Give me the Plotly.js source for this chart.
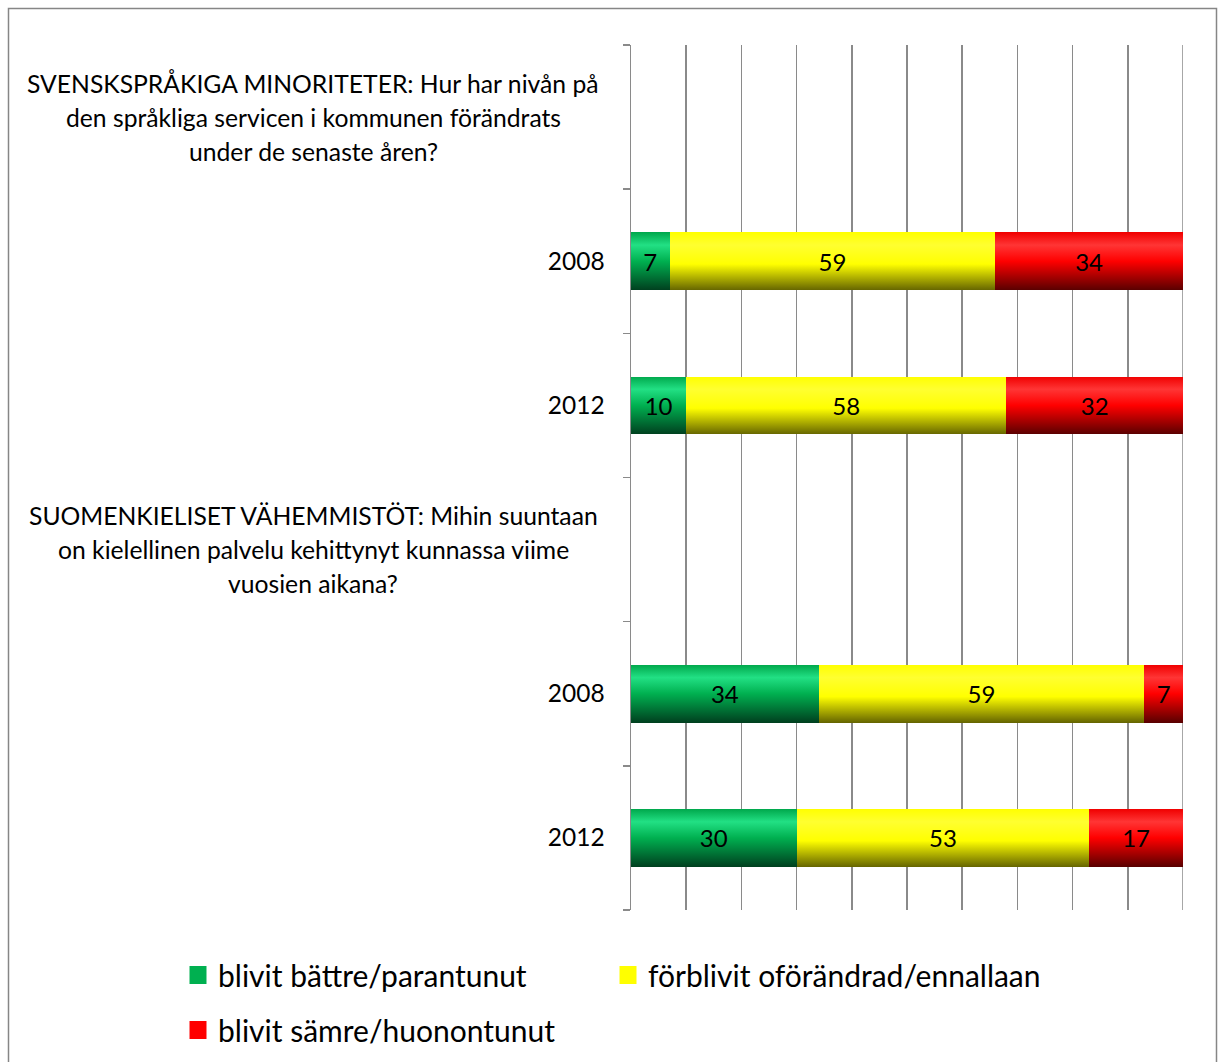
<!DOCTYPE html>
<html>
<head>
<meta charset="utf-8">
<script src="https://cdn.plot.ly/plotly-3.0.1.min.js"></script>
<style>
  html, body { margin: 0; padding: 0; background: #ffffff; }
  #chart { width: 1225px; height: 1062px; }
</style>
</head>
<body>
<div id="chart"></div>
<script>
// ---- data ----
const rowLabels = [
  'SVENSKSPRÅKIGA MINORITETER: Hur har nivån på<br>den språkliga servicen i kommunen förändrats<br>under de senaste åren?',
  '2008',
  '2012',
  'SUOMENKIELISET VÄHEMMISTÖT: Mihin suuntaan<br>on kielellinen palvelu kehittynyt kunnassa viime<br>vuosien aikana?',
  '2008',
  '2012'
];
const isQuestion = [true, false, false, true, false, false];
const seriesNames = ['blivit bättre/parantunut', 'förblivit oförändrad/ennallaan', 'blivit sämre/huonontunut'];
const better = [null, 7, 10, null, 34, 30];
const same   = [null, 59, 58, null, 59, 53];
const worse  = [null, 34, 32, null, 7, 17];

// ---- styling ----
const FONT = 'Lato, "Open Sans", sans-serif';
const colors = ['#00B050', '#FFFF00', '#FF0000'];
const rowKeys = rowLabels.map((l, i) => 'r' + i);
const values = [better, same, worse];
const legends = ['legend', 'legend2', 'legend3'];

const traces = values.map((vals, k) => ({
  type: 'bar',
  orientation: 'h',
  name: seriesNames[k],
  y: rowKeys,
  x: vals,
  text: vals.map(v => v == null ? '' : String(v)),
  textposition: 'inside',
  insidetextanchor: 'middle',
  textangle: 0,
  textfont: { family: FONT, size: 24, color: '#000000' },
  marker: { color: colors[k], line: { width: 0 } },
  width: 0.4,
  legend: legends[k],
  hoverinfo: 'skip'
}));

const plotL = 631, plotR = 1183, plotT = 45, plotB = 910;
const pw = plotR - plotL, ph = plotB - plotT;
const px2x = px => (px - plotL) / pw;
const px2y = py => (plotB - py) / ph;

// question labels drawn as centred text lines beside their (empty) rows
const LINE_GAP = 34;
const annotations = [];
rowLabels.forEach((l, i) => {
  if (!isQuestion[i]) return;
  const lines = l.split('<br>');
  lines.forEach((line, j) => {
    annotations.push({
      xref: 'paper', yref: 'y', x: px2x(313), y: rowKeys[i],
      xanchor: 'center', yanchor: 'middle', align: 'center',
      yshift: -(j - (lines.length - 1) / 2) * LINE_GAP,
      text: line, showarrow: false,
      font: { family: FONT, size: 24.7, color: '#000000' }
    });
  });
});

const legendBase = {
  orientation: 'h', xanchor: 'left', yanchor: 'middle',
  bgcolor: 'rgba(0,0,0,0)', borderwidth: 0,
  font: { family: FONT, size: 30, color: '#000000' }
};

const layout = {
  width: 1225, height: 1062,
  margin: { l: plotL, r: 1225 - plotR, t: plotT, b: 1062 - plotB, pad: 0, autoexpand: false },
  paper_bgcolor: '#ffffff', plot_bgcolor: '#ffffff',
  barmode: 'stack',
  font: { family: FONT, color: '#000000' },
  xaxis: {
    range: [0, 100], dtick: 10, tick0: 0,
    showgrid: true, gridcolor: '#8a8a8a', gridwidth: 1.5,
    zeroline: false, showticklabels: false, ticks: '', showline: false,
    fixedrange: true
  },
  yaxis: {
    type: 'category',
    categoryorder: 'array', categoryarray: rowKeys,
    autorange: 'reversed',
    tickmode: 'array', tickvals: rowKeys,
    ticktext: rowLabels.map((l, i) => isQuestion[i] ? '' : l),
    tickson: 'boundaries',
    ticks: 'outside', ticklen: 7, tickcolor: '#8a8a8a', tickwidth: 1.5,
    ticklabelstandoff: 20,
    showline: true, linecolor: '#8a8a8a', linewidth: 1.5,
    showgrid: false, zeroline: false,
    tickfont: { family: FONT, size: 24.5, color: '#000000' },
    fixedrange: true
  },
  showlegend: true,
  legend:  Object.assign({}, legendBase, { x: px2x(178), y: px2y(975) }),
  legend2: Object.assign({}, legendBase, { x: px2x(608), y: px2y(975) }),
  legend3: Object.assign({}, legendBase, { x: px2x(178), y: px2y(1030) }),
  annotations: annotations,
  shapes: [
    {
      type: 'rect', xref: 'paper', yref: 'paper',
      x0: px2x(8.5), x1: px2x(1216.5), y0: px2y(1080), y1: px2y(8.5),
      line: { color: '#868686', width: 1.5 }, fillcolor: 'rgba(0,0,0,0)', layer: 'below'
    },
    {
      type: 'line', xref: 'x', yref: 'paper', x0: 100, x1: 100, y0: 0, y1: 1,
      line: { color: '#8a8a8a', width: 1.5 }, layer: 'below'
    }
  ]
};

Plotly.newPlot('chart', traces, layout, { displayModeBar: false, staticPlot: true }).then(gd => {
  // Excel-like vertical gradient on bar fills
  const svg = gd.querySelector('svg.main-svg');
  const NS = 'http://www.w3.org/2000/svg';
  let defs = svg.querySelector('defs');
  if (!defs) { defs = document.createElementNS(NS, 'defs'); svg.insertBefore(defs, svg.firstChild); }
  const grads = [
    [['0', '#00A84C'], ['0.22', '#22E084'], ['0.5', '#00B050'], ['1', '#00401F']],
    [['0', '#FFFF00'], ['0.22', '#FFFF30'], ['0.55', '#FFFF00'], ['1', '#666600']],
    [['0', '#F00000'], ['0.22', '#FF3535'], ['0.5', '#FF0000'], ['1', '#5A0000']]
  ];
  grads.forEach((stops, k) => {
    const lg = document.createElementNS(NS, 'linearGradient');
    lg.setAttribute('id', 'barGrad' + k);
    lg.setAttribute('x1', '0'); lg.setAttribute('y1', '0');
    lg.setAttribute('x2', '0'); lg.setAttribute('y2', '1');
    stops.forEach(([o, c]) => {
      const s = document.createElementNS(NS, 'stop');
      s.setAttribute('offset', o); s.setAttribute('stop-color', c);
      lg.appendChild(s);
    });
    defs.appendChild(lg);
  });
  gd.querySelectorAll('.barlayer .trace').forEach((tr, k) => {
    tr.querySelectorAll('path').forEach(p => { p.style.fill = 'url(#barGrad' + k + ')'; });
  });
  // larger legend swatches
  gd.querySelectorAll('.legendpoints path').forEach(p => {
    p.setAttribute('d', 'M8.5,9H-8.5V-9H8.5Z');
  });
});
</script>
</body>
</html>
